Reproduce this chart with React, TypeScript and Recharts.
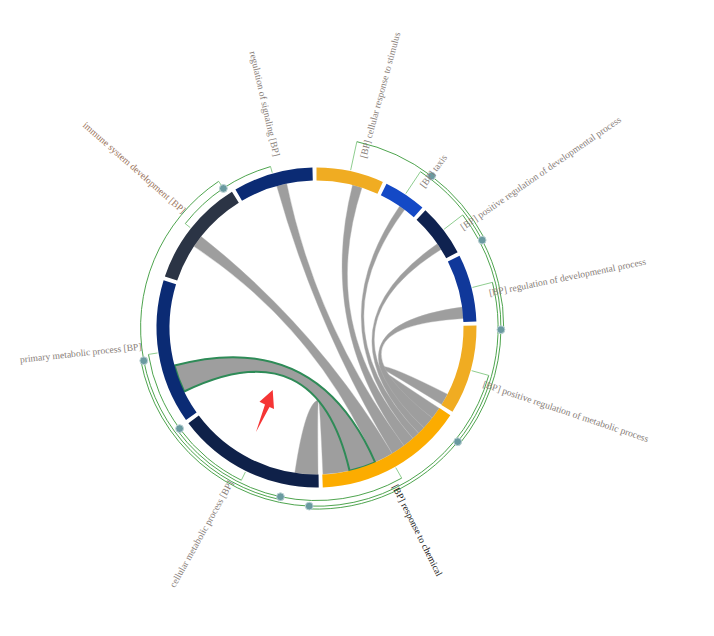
import React from "react";
import { PieChart, Pie, Cell, Customized } from "recharts";

// GO terms around the ring, clockwise from 12 o'clock
const terms = [
  "cellular response to stimulus",
  "taxis",
  "positive regulation of developmental process",
  "regulation of developmental process",
  "positive regulation of metabolic process",
  "response to chemical",
  "cellular metabolic process",
  "primary metabolic process",
  "immune system development",
  "regulation of signaling",
];
const termSizes = [24.5, 15.5, 19, 24.5, 32.5, 54.5, 54, 52.5, 39.5, 29];
const termColors = [
  "#F0AC22", "#1449C6", "#0F2250", "#10389A", "#F0AC22",
  "#FCAC00", "#0F2149", "#0B2B74", "#2B3445", "#0B2B74",
];

// chords: every source links to the hub term
const hubTerm = "response to chemical";
const chordSources = [
  "positive regulation of metabolic process",
  "regulation of developmental process",
  "positive regulation of developmental process",
  "taxis",
  "cellular response to stimulus",
  "regulation of signaling",
  "immune system development",
  "primary metabolic process",
  "cellular metabolic process",
];
const chordSourceFrom = [27.7, 18.65, 12.4, 8.45, 14.2, 14.75, 14.9, 9.55, 0.2];
const chordSourceTo = [32.3, 23.15, 15.0, 10.85, 18.0, 18.75, 19.7, 20.35, 9.3];
const chordTargetFrom = [0.1, 4.75, 9.75, 12.75, 15.75, 20.25, 25.75, 33.25, 43.75];
const chordTargetTo = [4.8, 9.75, 12.75, 15.75, 20.25, 25.75, 33.15, 43.75, 54.25];
const highlightedSource = "primary metabolic process";

// clustering tree drawn outside the ring
const clusterNames = ["n1", "n2", "n3", "n4", "n5", "n6", "n7", "n8", "n9"];
const clusterLeft = [
  "cellular response to stimulus",
  "taxis",
  "positive regulation of developmental process",
  "regulation of developmental process",
  "positive regulation of metabolic process",
  "n7",
  "response to chemical",
  "cellular metabolic process",
  "immune system development",
];
const clusterRight = ["n2", "n3", "n4", "n5", "n6", "n9", "n8", "primary metabolic process", "regulation of signaling"];
const clusterHeights = [9, 8, 7, 6, 5, 4, 3, 2, 1];

const W = 698;
const H = 620;
const CX = 308.5;
const CY = 319.5;
const INNER = 147;
const OUTER = 160;
const PAD = 1.45;
const START = 0; // degrees clockwise from top

const rad = (d: number) => (d * Math.PI) / 180;
const pt = (deg: number, r: number) => [CX + r * Math.sin(rad(deg)), CY - r * Math.cos(rad(deg))];

// same split of the circle that the Pie uses
const total = termSizes.reduce((a, b) => a + b, 0);
const unit = (360 - terms.length * PAD) / total;
const segStart: Record<string, number> = {};
const segMid: Record<string, number> = {};
{
  let a = START;
  terms.forEach((t, i) => {
    segStart[t] = a;
    segMid[t] = a + (termSizes[i] * unit) / 2;
    a += termSizes[i] * unit + PAD;
  });
}

const arcPath = (a0: number, a1: number, r: number) => {
  const [x0, y0] = pt(a0, r);
  const [x1, y1] = pt(a1, r);
  return `M${x0},${y0}A${r},${r} 0 ${a1 - a0 > 180 ? 1 : 0} 1 ${x1},${y1}`;
};

const ribbon = (s0: number, s1: number, t0: number, t1: number) => {
  const [ax, ay] = pt(s0, INNER);
  const [bx, by] = pt(s1, INNER);
  const [tx, ty] = pt(t0, INNER);
  const [ux, uy] = pt(t1, INNER);
  return (
    `M${ax},${ay}A${INNER},${INNER} 0 0 1 ${bx},${by}` +
    `Q${CX},${CY} ${tx},${ty}` +
    `A${INNER},${INNER} 0 0 1 ${ux},${uy}` +
    `Q${CX},${CY} ${ax},${ay}Z`
  );
};

const Chords = () => {
  const items = chordSources.map((src, i) => {
    const s0 = segStart[src] + chordSourceFrom[i] * unit;
    const s1 = segStart[src] + chordSourceTo[i] * unit;
    const t0 = segStart[hubTerm] + chordTargetFrom[i] * unit;
    const t1 = segStart[hubTerm] + chordTargetTo[i] * unit;
    return { src, d: ribbon(s0, s1, t0, t1) };
  });
  const hl = items.filter((c) => c.src === highlightedSource);
  return (
    <g>
      {items.map((c) => (
        <path key={c.src} d={c.d} fill="#9E9E9E" stroke="#B4B4B4" strokeWidth={0.4} />
      ))}
      {hl.map((c) => (
        <path key={"hl" + c.src} d={c.d} fill="#9E9E9E" stroke="#2E8B57" strokeWidth={2} />
      ))}
    </g>
  );
};

const nodeRadius = (h: number) => 164.5 + 2.85 * h;
const LEAF_R = 161;

const Dendrogram = () => {
  const angle: Record<string, number> = { ...segMid };
  const radius: Record<string, number> = {};
  terms.forEach((t) => (radius[t] = LEAF_R));
  // resolve from the lowest merge upwards
  const order = clusterNames.map((_, i) => i).sort((a, b) => clusterHeights[a] - clusterHeights[b]);
  order.forEach((i) => {
    const n = clusterNames[i];
    angle[n] = (angle[clusterLeft[i]] + angle[clusterRight[i]]) / 2;
    radius[n] = nodeRadius(clusterHeights[i]);
  });
  return (
    <g fill="none">
      {clusterNames.map((n, i) => {
        const r = radius[n];
        const kids = [clusterLeft[i], clusterRight[i]];
        return (
          <g key={n}>
            <path d={arcPath(angle[kids[0]], angle[kids[1]], r)} stroke="#3A9A3A" strokeWidth={0.9} />
            {kids.map((k) => {
              const [x0, y0] = pt(angle[k], radius[k]);
              const [x1, y1] = pt(angle[k], r);
              return <line key={k} x1={x0} y1={y0} x2={x1} y2={y1} stroke="#72C072" strokeWidth={0.8} />;
            })}
          </g>
        );
      })}
      {clusterNames.map((n) => {
        const [x, y] = pt(angle[n], radius[n]);
        return <circle key={"m" + n} cx={x} cy={y} r={3.9} fill="#6A9AA0" stroke="#BCD2D4" strokeWidth={1} />;
      })}
    </g>
  );
};

// red pointer annotation next to the highlighted chord
const Pointer = () => (
  <polygon
    points="264.7,382 266,401 261.5,399 248,424 257,396.5 251.5,393.7"
    fill="#F53535"
  />
);

const renderLabel = (props: any) => {
  const { midAngle, payload } = props;
  const name: string = payload.name;
  const theta = (((90 - midAngle) % 360) + 360 + 3) % 360;
  const [x, y] = pt(theta, 176);
  const right = theta < 180;
  const rot = right ? theta - 90 : theta - 270;
  return (
    <text
      x={x}
      y={y}
      transform={`rotate(${rot}, ${x}, ${y})`}
      textAnchor={right ? "start" : "end"}
      dominantBaseline="central"
      fontFamily="'Liberation Serif', 'Times New Roman', serif"
      fontSize={9.6}
      fill={name === hubTerm ? "#1E1E1E" : name === "immune system development" ? "#9C7660" : "#877D78"}
    >
      {right ? `[BP] ${name}` : `${name} [BP]`}
    </text>
  );
};

const ringData = terms.map((name, i) => ({ name, value: termSizes[i] }));

export default function App() {
  return (
    <div style={{ width: W, height: H, background: "#fff" }}>
      <PieChart width={W} height={H} margin={{ top: 0, right: 0, bottom: 0, left: 0 }}>
        <Customized component={<Dendrogram />} />
        <Customized component={<Chords />} />
        <Pie
          data={ringData}
          dataKey="value"
          nameKey="name"
          cx={CX}
          cy={CY}
          innerRadius={INNER}
          outerRadius={OUTER}
          startAngle={90 - START}
          endAngle={90 - START - 360}
          paddingAngle={PAD}
          stroke="none"
          label={renderLabel}
          labelLine={false}
          isAnimationActive={false}
        >
          {ringData.map((d, i) => (
            <Cell key={d.name} fill={termColors[i]} />
          ))}
        </Pie>
        <Customized component={<Pointer />} />
      </PieChart>
    </div>
  );
}
